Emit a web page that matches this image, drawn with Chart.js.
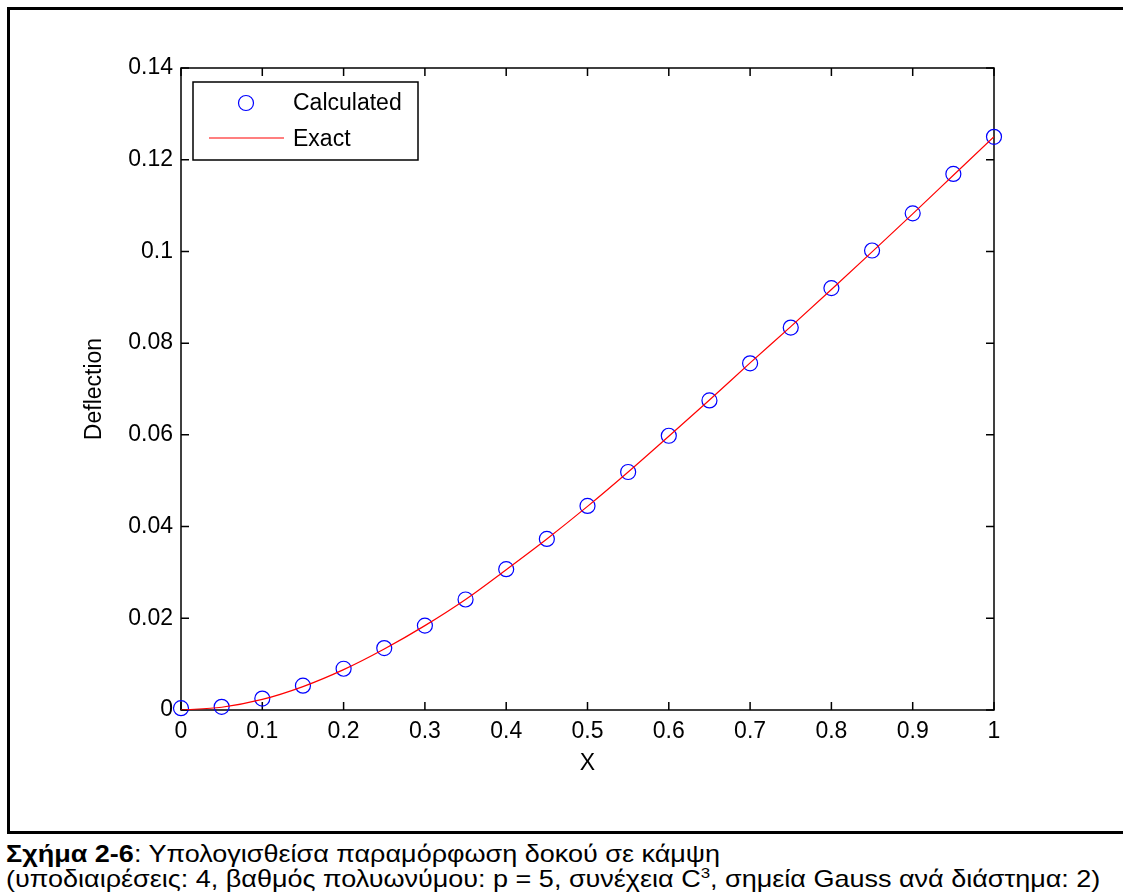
<!DOCTYPE html>
<html>
<head>
<meta charset="utf-8">
<script src="https://cdn.jsdelivr.net/npm/chart.js@4.4.1/dist/chart.umd.min.js"></script>
<style>
  html, body { margin: 0; background: #fff; width: 1123px; height: 893px; overflow: hidden; }
  body { position: relative; }
  .linea { position: absolute; background: #000; }
  #lTop { left: 7px; top: 7px; width: 1116px; height: 3px; }
  #lIzq { left: 7px; top: 7px; width: 3px; height: 827px; }
  #lBot { left: 7px; top: 831px; width: 1116px; height: 3px; }
  #wrap { position: absolute; left: 0; top: 0; width: 1123px; height: 833px; }
  #caption { position: absolute; left: 6px; top: 841px; font-family: Arial, "Liberation Sans", sans-serif; font-size: 24px; line-height: 25px; color: #000; white-space: nowrap; transform: scaleX(1.125); transform-origin: 0 0; }
  #caption sup { font-size: 15px; line-height: 0; vertical-align: 9px; }
</style>
</head>
<body>
<div class="linea" id="lTop"></div>
<div class="linea" id="lIzq"></div>
<div class="linea" id="lBot"></div>
<div id="wrap"><canvas id="grafico"></canvas></div>
<div id="caption"><b>Σχήμα 2-6</b>: Υπολογισθείσα παραμόρφωση δοκού σε κάμψη<br>(υποδιαιρέσεις: 4, βαθμός πολυωνύμου: p = 5, συνέχεια C<sup>3</sup>, σημεία Gauss ανά διάστημα: 2)</div>
<script>
// datos
const xValores = [0, 0.05, 0.1, 0.15, 0.2, 0.25, 0.3, 0.35, 0.4, 0.45, 0.5,
  0.55, 0.6, 0.65, 0.7, 0.75, 0.8, 0.85, 0.9, 0.95, 1];
const yCalculado = [0.0004, 0.0007, 0.0025, 0.0053, 0.0090, 0.0135, 0.0184, 0.0241, 0.0307, 0.0373, 0.0445,
  0.0519, 0.0598, 0.0675, 0.0756, 0.0834, 0.0920, 0.1002, 0.1083, 0.1169, 0.1250];
const yExacto = [0, 0.0006, 0.0023, 0.0051, 0.0088, 0.0133, 0.0184, 0.0241, 0.0306, 0.0373, 0.0444,
  0.0519, 0.0597, 0.0676, 0.0757, 0.0836, 0.0917, 0.0999, 0.1082, 0.1166, 0.1250];
const xTicks = [0, 0.1, 0.2, 0.3, 0.4, 0.5, 0.6, 0.7, 0.8, 0.9, 1];
const yTicks = [0, 0.02, 0.04, 0.06, 0.08, 0.1, 0.12, 0.14];
const etiquetas = ["Calculated", "Exact"];

const fuente = 'Arial, "Liberation Sans", sans-serif';

function fmt(v) {
  return String(+v.toFixed(2));
}

// ejes estilo matlab (caja + ticks hacia adentro)
const ejesMatlab = {
  id: "ejesMatlab",
  beforeDatasetsDraw(chart) {
    const { ctx, chartArea: a, scales } = chart;
    ctx.save();
    ctx.strokeStyle = "#000";
    ctx.lineWidth = 1.5;
    ctx.strokeRect(a.left, a.top, a.right - a.left, a.bottom - a.top);
    ctx.beginPath();
    xTicks.forEach((t) => {
      const px = scales.x.getPixelForValue(t);
      ctx.moveTo(px, a.bottom);
      ctx.lineTo(px, a.bottom - 8);
      ctx.moveTo(px, a.top);
      ctx.lineTo(px, a.top + 8);
    });
    yTicks.forEach((t) => {
      const py = scales.y.getPixelForValue(t);
      ctx.moveTo(a.left, py);
      ctx.lineTo(a.left + 8, py);
      ctx.moveTo(a.right, py);
      ctx.lineTo(a.right - 8, py);
    });
    ctx.stroke();
    ctx.restore();
  },
  afterDraw(chart) {
    const { ctx, chartArea: a } = chart;
    const bx = a.left + 12, by = a.top + 14;
    ctx.save();
    ctx.fillStyle = "#fff";
    ctx.fillRect(bx, by, 225, 78);
    ctx.strokeStyle = "#000";
    ctx.lineWidth = 1.5;
    ctx.strokeRect(bx, by, 225, 78);

    const dsCalc = chart.data.datasets[0];
    const dsExacto = chart.data.datasets[1];
    // marcador
    ctx.beginPath();
    ctx.arc(bx + 53, by + 21, dsCalc.pointRadius, 0, Math.PI * 2);
    ctx.strokeStyle = dsCalc.borderColor;
    ctx.lineWidth = dsCalc.borderWidth;
    ctx.stroke();
    // linea
    ctx.beginPath();
    ctx.moveTo(bx + 16, by + 56);
    ctx.lineTo(bx + 91, by + 56);
    ctx.strokeStyle = dsExacto.borderColor;
    ctx.lineWidth = dsExacto.borderWidth;
    ctx.stroke();

    ctx.fillStyle = "#000";
    ctx.font = "23px " + fuente;
    ctx.textBaseline = "middle";
    ctx.textAlign = "left";
    ctx.fillText(dsCalc.label, bx + 100, by + 22);
    ctx.fillText(dsExacto.label, bx + 100, by + 58);
    ctx.restore();
  },
};

new Chart(document.getElementById("grafico"), {
  type: "scatter",
  data: {
    datasets: [
      {
        label: etiquetas[0],
        data: xValores.map((x, i) => ({ x: x, y: yCalculado[i] })),
        showLine: false,
        pointStyle: "circle",
        pointRadius: 7.5,
        pointBackgroundColor: "rgba(0,0,0,0)",
        borderColor: "#0000ff",
        borderWidth: 1.2,
        clip: false,
        order: 2,
      },
      {
        label: etiquetas[1],
        data: xValores.map((x, i) => ({ x: x, y: yExacto[i] })),
        showLine: true,
        pointRadius: 0,
        borderColor: "#ff0000",
        borderWidth: 1.2,
        cubicInterpolationMode: "monotone",
        order: 1,
      },
    ],
  },
  options: {
    responsive: true,
    maintainAspectRatio: false,
    animation: false,
    layout: { padding: { top: 68, right: 129, bottom: 43, left: 0 } },
    plugins: { legend: { display: false }, tooltip: { enabled: false } },
    scales: {
      x: {
        type: "linear",
        min: 0,
        max: 1,
        afterBuildTicks: (s) => { s.ticks = xTicks.map((v) => ({ value: v })); },
        ticks: {
          autoSkip: false,
          maxRotation: 0,
          padding: 8,
          color: "#000",
          font: { family: fuente, size: 23 },
          callback: (v) => fmt(v),
        },
        grid: { display: false, drawTicks: false },
        border: { display: false },
        title: {
          display: true,
          text: "X",
          color: "#000",
          font: { family: fuente, size: 23 },
          padding: { top: 0, bottom: 13 },
        },
        afterFit: (s) => {
          s.height = 80;
          s.paddingLeft = 0;
          s.paddingRight = 0;
        },
      },
      y: {
        type: "linear",
        min: 0,
        max: 0.14,
        afterBuildTicks: (s) => { s.ticks = yTicks.map((v) => ({ value: v })); },
        ticks: {
          autoSkip: false,
          padding: 8,
          color: "#000",
          font: { family: fuente, size: 23 },
          callback: (v) => fmt(v),
        },
        grid: { display: false, drawTicks: false },
        border: { display: false },
        title: {
          display: true,
          text: "Deflection",
          color: "#000",
          font: { family: fuente, size: 23 },
          padding: { top: 81, bottom: 0 },
        },
        afterFit: (s) => {
          s.width = 181;
          s.paddingTop = 0;
          s.paddingBottom = 0;
        },
      },
    },
  },
  plugins: [ejesMatlab],
});
</script>
</body>
</html>
